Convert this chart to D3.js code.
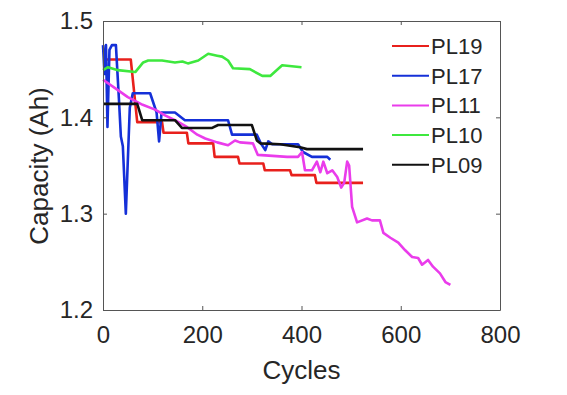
<!DOCTYPE html>
<html>
<head>
<meta charset="utf-8">
<script src="https://cdn.jsdelivr.net/npm/d3@7"></script>
<style>
  body { margin: 0; background: #fff; }
  text { font-family: "Liberation Sans", Arial, sans-serif; fill: #262626; }
</style>
</head>
<body>
<div id="chart"></div>
<script>
// cycle / capacity pairs
var pl19 = [[0,1.46],[56,1.46],[69,1.395],[119,1.395],[122,1.384],[169,1.384],[172,1.373],[222,1.373],[225,1.359],[272,1.359],[275,1.352],[323,1.352],[326,1.345],[377,1.345],[380,1.340],[427,1.340],[430,1.332],[524,1.332]];
var pl17 = [[0,1.475],[3,1.445],[6,1.475],[9,1.39],[13,1.47],[18,1.475],[26,1.475],[32,1.42],[36,1.38],[40,1.37],[46,1.30],[54,1.41],[60,1.425],[95,1.425],[108,1.405],[113,1.375],[118,1.405],[145,1.405],[165,1.397],[252,1.397],[260,1.382],[310,1.382],[318,1.373],[327,1.366],[333,1.375],[341,1.372],[393,1.372],[403,1.364],[421,1.359],[452,1.359],[458,1.356]];
var pl11 = [[0,1.439],[25,1.43],[50,1.421],[80,1.413],[105,1.408],[125,1.402],[145,1.397],[169,1.39],[190,1.382],[206,1.378],[230,1.374],[252,1.371],[266,1.376],[276,1.374],[302,1.373],[312,1.361],[371,1.359],[393,1.359],[401,1.364],[407,1.345],[421,1.345],[431,1.354],[438,1.343],[444,1.354],[452,1.342],[462,1.345],[472,1.338],[480,1.327],[486,1.332],[492,1.354],[496,1.35],[502,1.307],[512,1.291],[532,1.295],[542,1.293],[558,1.293],[565,1.28],[579,1.275],[595,1.27],[609,1.262],[623,1.255],[635,1.254],[643,1.247],[655,1.252],[665,1.245],[679,1.238],[690,1.229],[700,1.226]];
var pl10 = [[0,1.449],[10,1.452],[30,1.449],[65,1.447],[81,1.457],[91,1.459],[119,1.459],[145,1.457],[160,1.458],[171,1.456],[192,1.459],[212,1.466],[230,1.464],[240,1.463],[252,1.459],[262,1.451],[296,1.45],[321,1.443],[337,1.443],[361,1.454],[400,1.452]];
var pl09 = [[0,1.414],[69,1.414],[79,1.397],[145,1.397],[159,1.389],[220,1.389],[232,1.392],[300,1.392],[310,1.376],[317,1.373],[357,1.372],[397,1.369],[411,1.367],[524,1.367]];

var seriesNames = ["PL19", "PL17", "PL11", "PL10", "PL09"];
var seriesData = [pl19, pl17, pl11, pl10, pl09];
var seriesColors = ["#e8201c", "#1530d8", "#ea3ceb", "#3ee83e", "#111111"];

var xTicks = [0, 200, 400, 600, 800];
var yTicks = [1.2, 1.3, 1.4, 1.5];

var svgWidth = 567;
var svgHeight = 395;
var margin = { top: 21, right: 67, bottom: 85, left: 103 };
var width = svgWidth - margin.left - margin.right;
var height = svgHeight - margin.top - margin.bottom;

var svg = d3.select("#chart")
  .append("svg")
  .attr("width", svgWidth)
  .attr("height", svgHeight);

var chartGroup = svg.append("g")
  .attr("transform", `translate(${margin.left}, ${margin.top})`);

var x = d3.scaleLinear().domain([0, 800]).range([0, width]);
var y = d3.scaleLinear().domain([1.2, 1.5]).range([height, 0]);

// lines
var line = d3.line()
  .x(d => x(d[0]))
  .y(d => y(d[1]));

seriesData.forEach(function(data, i) {
  chartGroup.append("path")
    .datum(data)
    .attr("d", line)
    .attr("fill", "none")
    .attr("stroke", seriesColors[i])
    .attr("stroke-width", 2.6)
    .attr("stroke-linejoin", "round");
});

// axes, matlab style box with inward ticks
var bottomAxis = d3.axisBottom(x).tickValues(xTicks).tickSizeInner(-4).tickSizeOuter(0).tickPadding(10);
var leftAxis = d3.axisLeft(y).tickValues(yTicks).tickFormat(d3.format(".1f")).tickSizeInner(-4).tickSizeOuter(0).tickPadding(10);
var topAxis = d3.axisTop(x).tickValues(xTicks).tickSizeInner(-4).tickSizeOuter(0).tickFormat("");
var rightAxis = d3.axisRight(y).tickValues(yTicks).tickSizeInner(-4).tickSizeOuter(0).tickFormat("");

var xAxis = chartGroup.append("g")
  .attr("transform", `translate(0, ${height})`)
  .call(bottomAxis);
var yAxis = chartGroup.append("g").call(leftAxis);
chartGroup.append("g").call(topAxis);
chartGroup.append("g").attr("transform", `translate(${width}, 0)`).call(rightAxis);

chartGroup.selectAll(".domain, .tick line")
  .attr("stroke", "#555")
  .attr("stroke-width", 1);
chartGroup.selectAll(".tick text")
  .attr("font-size", 24)
  .style("font-family", "Liberation Sans, Arial, sans-serif")
  .attr("fill", "#262626");
xAxis.selectAll(".tick text").attr("dy", "0.71em").attr("y", 16);

// axis labels
chartGroup.append("text")
  .attr("x", width / 2)
  .attr("y", height + 69)
  .attr("text-anchor", "middle")
  .attr("font-size", 26)
  .text("Cycles");

chartGroup.append("text")
  .attr("transform", "rotate(-90)")
  .attr("x", -145)
  .attr("y", 0 - margin.left + 48)
  .attr("text-anchor", "middle")
  .attr("font-size", 26)
  .text("Capacity (Ah)");

// legend
var legend = chartGroup.append("g")
  .attr("transform", `translate(${392 - margin.left}, ${46 - margin.top})`);

seriesNames.forEach(function(name, i) {
  var row = legend.append("g").attr("transform", `translate(0, ${i * 29.7})`);
  row.append("line")
    .attr("x1", 0).attr("x2", 37)
    .attr("y1", 0).attr("y2", 0)
    .attr("stroke", seriesColors[i])
    .attr("stroke-width", 2);
  row.append("text")
    .attr("x", 39)
    .attr("y", 0)
    .attr("dy", "0.36em")
    .attr("font-size", 22)
    .text(name);
});
</script>
</body>
</html>
